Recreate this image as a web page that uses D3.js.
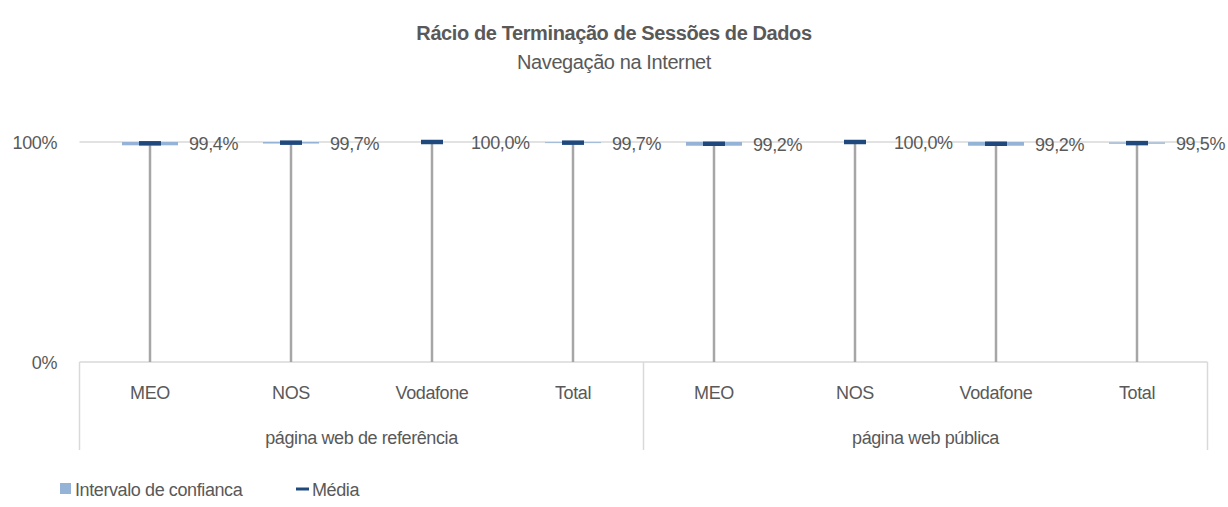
<!DOCTYPE html>
<html>
<head>
<meta charset="utf-8">
<script src="https://cdn.jsdelivr.net/npm/d3@7"></script>
<style>
	body { margin: 0; background: #fff; }
	text { font-family: "Liberation Sans", Arial, sans-serif; fill: #595959; letter-spacing: -0.4px; }
</style>
</head>
<body>
<div id="chart"></div>
<script>
	///////////////////////////////////////////////////////////////////////////
	//////////////////////////////// Data /////////////////////////////////////
	///////////////////////////////////////////////////////////////////////////

	var groups = ["página web de referência", "página web pública"];
	var operators = ["MEO", "NOS", "Vodafone", "Total"];
	var means = [99.4, 99.7, 100.0, 99.7, 99.2, 100.0, 99.2, 99.5];
	var ciLow = [98.5, 99.3, 100.0, 99.5, 98.3, 100.0, 98.3, 99.2];
	var ciHigh = [100.0, 100.0, 100.0, 99.9, 100.0, 100.0, 100.0, 99.8];
	var yTicks = [0, 100];

	var rows = [];
	groups.forEach(function(g, gi) {
		operators.forEach(function(o, oi) {
			var i = gi * operators.length + oi;
			rows.push({ key: g + "|" + o, group: g, op: o, mean: means[i], lo: ciLow[i], hi: ciHigh[i] });
		});
	});

	///////////////////////////////////////////////////////////////////////////
	//////////////////// Set up and initiate svg containers ///////////////////
	///////////////////////////////////////////////////////////////////////////

	var width = 1228, height = 507;
	var plot = { left: 79.5, right: 1207.5, top: 142, bottom: 362 };

	var svg = d3.select("#chart").append("svg")
		.attr("width", width)
		.attr("height", height);

	var x = d3.scaleBand()
		.domain(rows.map(function(d) { return d.key; }))
		.range([plot.left, plot.right]);

	var y = d3.scaleLinear()
		.domain([0, 100])
		.range([plot.bottom, plot.top]);

	var fmt = function(v) { return v.toFixed(1).replace(".", ",") + "%"; };

	//Titles
	svg.append("text")
		.attr("x", width / 2).attr("y", 40)
		.style("text-anchor", "middle")
		.style("font-size", "20px")
		.style("font-weight", "bold")
		.text("Rácio de Terminação de Sessões de Dados");
	svg.append("text")
		.attr("x", width / 2).attr("y", 69)
		.style("text-anchor", "middle")
		.style("font-size", "20px")
		.text("Navegação na Internet");

	///////////////////////////////////////////////////////////////////////////
	/////////////////////////////// Axes //////////////////////////////////////
	///////////////////////////////////////////////////////////////////////////

	//Gridline at 100% and baseline
	svg.append("g").selectAll("line")
		.data(yTicks)
		.enter().append("line")
		.attr("x1", plot.left).attr("x2", plot.right)
		.attr("y1", function(d) { return y(d); })
		.attr("y2", function(d) { return y(d); })
		.style("stroke", "#d9d9d9")
		.style("stroke-width", 1.5);

	svg.append("g").selectAll("text")
		.data(yTicks)
		.enter().append("text")
		.attr("x", 57)
		.attr("y", function(d) { return y(d) + 7; })
		.style("text-anchor", "end")
		.style("font-size", "18px")
		.text(function(d) { return d + "%"; });

	//Category labels
	svg.append("g").selectAll("text")
		.data(rows)
		.enter().append("text")
		.attr("x", function(d) { return x(d.key) + x.bandwidth() / 2; })
		.attr("y", 399)
		.style("text-anchor", "middle")
		.style("font-size", "18px")
		.text(function(d) { return d.op; });

	//Group labels and separators
	var groupW = x.bandwidth() * operators.length;
	svg.append("g").selectAll("text")
		.data(groups)
		.enter().append("text")
		.attr("x", function(d, i) { return plot.left + groupW * i + groupW / 2; })
		.attr("y", 444)
		.style("text-anchor", "middle")
		.style("font-size", "18px")
		.text(function(d) { return d; });

	svg.append("g").selectAll("line")
		.data(d3.range(groups.length + 1))
		.enter().append("line")
		.attr("x1", function(i) { return plot.left + groupW * i; })
		.attr("x2", function(i) { return plot.left + groupW * i; })
		.attr("y1", plot.bottom).attr("y2", 450)
		.style("stroke", "#d9d9d9")
		.style("stroke-width", 1.5);

	///////////////////////////////////////////////////////////////////////////
	/////////////////////////////// Marks /////////////////////////////////////
	///////////////////////////////////////////////////////////////////////////

	var marks = svg.append("g").selectAll("g")
		.data(rows)
		.enter().append("g")
		.attr("transform", function(d) { return "translate(" + (x(d.key) + x.bandwidth() / 2) + ",0)"; });

	//Drop line from zero to the mean
	marks.append("line")
		.attr("x1", 0).attr("x2", 0)
		.attr("y1", y(0))
		.attr("y2", function(d) { return y(d.mean); })
		.style("stroke", "#a6a6a6")
		.style("stroke-width", 2.5);

	//Confidence interval
	marks.append("rect")
		.attr("x", -28).attr("width", 56)
		.attr("y", function(d) { return y(d.hi); })
		.attr("height", function(d) { return Math.max(0, y(d.lo) - y(d.hi)); })
		.style("fill", "#95b3d7");

	//Mean marker
	marks.append("line")
		.attr("x1", -11).attr("x2", 11)
		.attr("y1", function(d) { return y(d.mean); })
		.attr("y2", function(d) { return y(d.mean); })
		.style("stroke", "#1f497d")
		.style("stroke-width", 4.5);

	//Value labels
	marks.append("text")
		.attr("x", 39)
		.attr("y", function(d) { return y(d.mean) + 7; })
		.style("font-size", "18px")
		.text(function(d) { return fmt(d.mean); });

	///////////////////////////////////////////////////////////////////////////
	/////////////////////////////// Legend ////////////////////////////////////
	///////////////////////////////////////////////////////////////////////////

	var legend = svg.append("g").attr("transform", "translate(0,489)");
	legend.append("rect")
		.attr("x", 60).attr("y", -6).attr("width", 11).attr("height", 11)
		.style("fill", "#95b3d7");
	legend.append("text")
		.attr("x", 75).attr("y", 7)
		.style("font-size", "18px")
		.text("Intervalo de confianca");
	legend.append("line")
		.attr("x1", 296).attr("x2", 309)
		.attr("y1", 0).attr("y2", 0)
		.style("stroke", "#1f497d")
		.style("stroke-width", 3);
	legend.append("text")
		.attr("x", 312).attr("y", 7)
		.style("font-size", "18px")
		.text("Média");
</script>
</body>
</html>
